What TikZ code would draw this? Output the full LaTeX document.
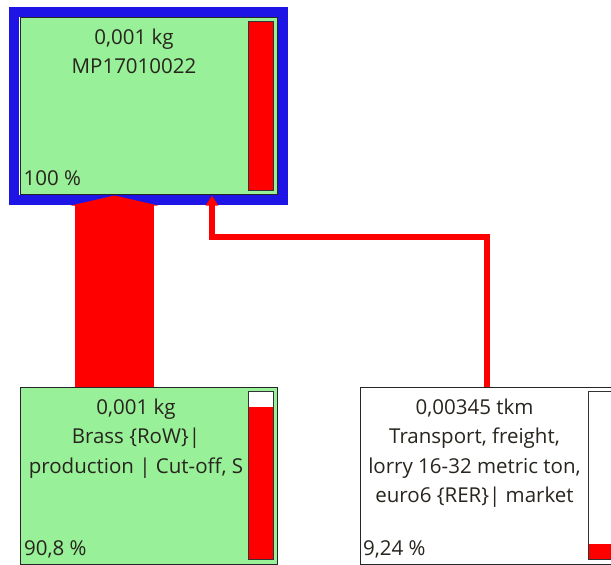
\documentclass[tikz,border=0pt]{standalone}
\usepackage{fontspec}
\setmainfont{Open Sans}
\usepackage{tikz}
\usetikzlibrary{positioning, arrows.meta, calc}
\definecolor{procgreen}{RGB}{152,240,152}
\definecolor{frameblue}{RGB}{30,20,230}
\definecolor{flowred}{RGB}{255,0,0}
\definecolor{inktext}{RGB}{40,36,30}

\begin{document}
\begin{tikzpicture}[x=1pt, y=-1pt,
  font=\fontsize{20.5}{29.5}\selectfont, text=inktext,
  procbox/.style={draw=black!85, line width=1pt, minimum width=257pt, minimum height=177pt, inner sep=0pt},
  scorebar/.style={draw=black!80, line width=1pt, fill=white, minimum width=25pt, minimum height=168pt, inner sep=0pt, anchor=north east,
    path picture={\fill[flowred] (path picture bounding box.south west) rectangle ($(path picture bounding box.south east)!#1!(path picture bounding box.north east)$);}},
  boxtext/.style={align=center, inner sep=0pt},
  pcttext/.style={inner sep=0pt, anchor=base west},
  flowthin/.style={flowred, line width=6pt, -{Triangle[length=10pt, width=12pt]}}]
  \useasboundingbox (0,0) rectangle (611,565);

  \node[draw=frameblue, line width=10pt, minimum width=269pt, minimum height=188pt, inner sep=0pt] (mpframe) at (148.5,105.5) {};
  \node[procbox, fill=procgreen] (mp) at (148.5,105.5) {};
  \node[scorebar=1, minimum height=169pt] (mpbar) at ([shift={(-3.5pt,-4pt)}]mp.north east) {};
  \node[boxtext, below=12pt of mp.north, xshift=-14.5pt] (mptext) {0,001 kg\\MP17010022};
  \node[pcttext] (mppct) at ([shift={(4pt,9pt)}]mp.south west) {100 \%};

  \node[procbox, fill=procgreen] (brass) at (149,475.5) {};
  \node[scorebar=0.908] (brassbar) at ([shift={(-4pt,-4.5pt)}]brass.north east) {};
  \node[boxtext, below=12pt of brass.north, xshift=-13pt] (brasstext) {0,001 kg\\Brass \{RoW\}|\\production | Cut-off, S};
  \node[pcttext] (brasspct) at ([shift={(4pt,9pt)}]brass.south west) {90,8 \%};

  \node[procbox, fill=white] (trans) at (489,475.5) {};
  \node[scorebar=0.0924] (transbar) at ([shift={(-4pt,-4.5pt)}]trans.north east) {};
  \node[boxtext, below=12pt of trans.north, xshift=-14.5pt] (transtext) {0,00345 tkm\\Transport, freight,\\lorry 16-32 metric ton,\\euro6 \{RER\}| market};
  \node[pcttext] (transpct) at ([shift={(3pt,9pt)}]trans.south west) {9,24 \%};

  \draw[flowred, line width=79pt, -{Triangle[length=10pt, width=87pt]}] ([xshift=-34.5pt]brass.north) -- ([xshift=-34pt, yshift=-1pt]mp.south);
  \draw[flowthin] ([xshift=-2pt]trans.north) |- ([xshift=63.5pt, yshift=-42pt]mp.south) -- ([xshift=63.5pt, yshift=-1pt]mp.south);
\end{tikzpicture}
\end{document}
